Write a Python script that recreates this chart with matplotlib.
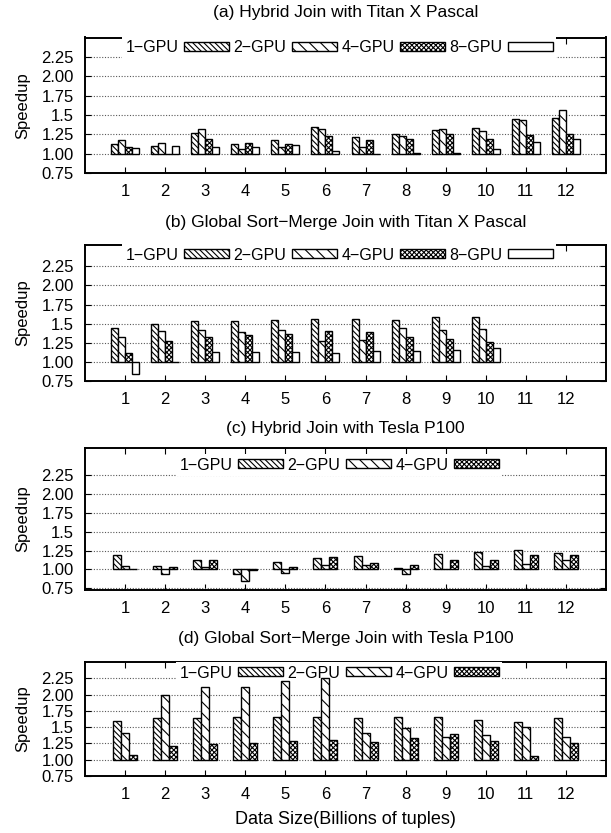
import matplotlib.pyplot as plt
import numpy as np

plt.rcParams['font.family'] = ['Liberation Sans', 'DejaVu Sans']
plt.rcParams['hatch.linewidth'] = 0.8

sizes = list(range(1, 13))
yticks = [0.75, 1.00, 1.25, 1.5, 1.75, 2.00, 2.25]
ytick_labels = ['0.75', '1.00', '1.25', '1.5', '1.75', '2.00', '2.25']
gpu_labels = ['1\u2212GPU', '2\u2212GPU', '4\u2212GPU', '8\u2212GPU']

# (a) Hybrid Join with Titan X Pascal
hj_titan_1 = [1.13, 1.10, 1.27, 1.13, 1.17, 1.345, 1.21, 1.26, 1.305, 1.33, 1.45, 1.465]
hj_titan_2 = [1.18, 1.14, 1.32, 1.065, 1.09, 1.32, 1.08, 1.225, 1.32, 1.295, 1.43, 1.57]
hj_titan_4 = [1.08, 0.99, 1.185, 1.14, 1.13, 1.225, 1.17, 1.195, 1.25, 1.185, 1.235, 1.25]
hj_titan_8 = [1.07, 1.10, 1.09, 1.08, 1.11, 1.035, 0.99, 1.005, 1.01, 1.06, 1.15, 1.195]

# (b) Global Sort-Merge Join with Titan X Pascal (no data for 11, 12)
gsm_titan_1 = [1.44, 1.50, 1.54, 1.53, 1.55, 1.56, 1.56, 1.55, 1.59, 1.59]
gsm_titan_2 = [1.33, 1.40, 1.415, 1.395, 1.415, 1.27, 1.29, 1.445, 1.42, 1.435]
gsm_titan_4 = [1.11, 1.27, 1.33, 1.35, 1.37, 1.41, 1.39, 1.32, 1.30, 1.26]
gsm_titan_8 = [0.84, 1.0, 1.13, 1.135, 1.13, 1.12, 1.14, 1.145, 1.155, 1.185]

# (c) Hybrid Join with Tesla P100
hj_p100_1 = [1.185, 1.045, 1.13, 0.945, 1.10, 1.15, 1.18, 1.025, 1.20, 1.23, 1.26, 1.22]
hj_p100_2 = [1.045, 0.945, 1.03, 0.855, 0.95, 1.065, 1.055, 0.945, 1.0, 1.05, 1.075, 1.13]
hj_p100_4 = [1.01, 1.03, 1.13, 0.99, 1.03, 1.17, 1.09, 1.065, 1.13, 1.12, 1.185, 1.185]

# (d) Global Sort-Merge Join with Tesla P100
gsm_p100_1 = [1.60, 1.635, 1.635, 1.655, 1.655, 1.66, 1.64, 1.65, 1.65, 1.61, 1.585, 1.64]
gsm_p100_2 = [1.405, 1.995, 2.11, 2.11, 2.205, 2.25, 1.41, 1.485, 1.355, 1.38, 1.495, 1.355]
gsm_p100_4 = [1.08, 1.205, 1.235, 1.25, 1.29, 1.295, 1.27, 1.34, 1.39, 1.29, 1.06, 1.255]

hatches = ['\\' * 6, '\\' * 3, 'x' * 7, '']

W, H = 611, 833
fig = plt.figure(figsize=(W / 100, H / 100), dpi=100)

panels = [
  ('(a) Hybrid Join with Titan X Pascal', [hj_titan_1, hj_titan_2, hj_titan_4, hj_titan_8],
   37.5, 173, (0.75, 2.5), 12, 48),
  ('(b) Global Sort\u2212Merge Join with Titan X Pascal', [gsm_titan_1, gsm_titan_2, gsm_titan_4, gsm_titan_8],
   245, 381, (0.75, 2.53), 222, 255),
  ('(c) Hybrid Join with Tesla P100', [hj_p100_1, hj_p100_2, hj_p100_4],
   448, 590, (0.73, 2.6), 428, 465),
  ('(d) Global Sort\u2212Merge Join with Tesla P100', [gsm_p100_1, gsm_p100_2, gsm_p100_4],
   662, 776, (0.75, 2.5), 638, 673),
]

left, right = 85, 606
for title, series, top, bottom, ylim, title_y, leg_y in panels:
  ax = fig.add_axes([left / W, 1 - bottom / H, (right - left) / W, (bottom - top) / H])
  n = len(series)
  width = 0.175 if n == 4 else 0.2
  for i, vals in enumerate(series):
    x = np.array(sizes[:len(vals)]) + (i - (n - 1) / 2) * width
    h = np.array(vals) - 1.0
    ax.bar(x, h, width=width, bottom=1.0, color='white', edgecolor='black',
           hatch=hatches[i], linewidth=1.0, label=gpu_labels[i], zorder=3)
  ax.set_xlim(0, 13)
  ax.set_ylim(*ylim)
  ax.set_xticks(sizes)
  ax.set_yticks(yticks)
  ax.set_yticklabels(ytick_labels)
  ax.yaxis.grid(True, linestyle=(0, (1, 1.5)), color='0.35', linewidth=0.8, zorder=0)
  ax.set_axisbelow(True)
  ax.tick_params(direction='in', top=True, right=True, length=4, labelsize=12, pad=8)
  for s in ax.spines.values():
    s.set_linewidth(1.4)
  ax.set_ylabel('Speedup', fontsize=12)
  ax.yaxis.set_label_coords(-0.105, 0.5)
  leg = ax.legend(loc='center', bbox_to_anchor=(0.488, 1 - (leg_y - top) / (bottom - top)),
                  ncol=n, markerfirst=False, fontsize=11.5, frameon=True, fancybox=False,
                  edgecolor='none', facecolor='white', framealpha=1, handlelength=2.8,
                  handleheight=0.5, handletextpad=0.35, columnspacing=0.3, borderpad=0.2,
                  borderaxespad=0)
  leg.set_zorder(2.5)
  fig.text((left + right) / 2 / W, 1 - title_y / H, title, ha='center', va='center', fontsize=12.5)

fig.text((left + right) / 2 / W, 1 - 820 / H, 'Data Size(Billions of tuples)',
         ha='center', va='center', fontsize=13)

fig.savefig('out.png', dpi=100)
